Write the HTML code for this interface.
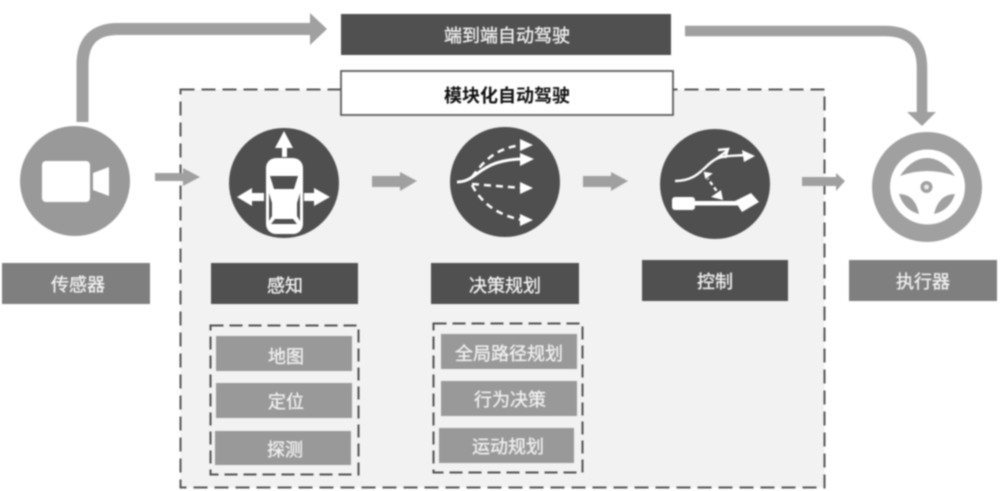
<!DOCTYPE html>
<html lang="zh">
<head>
<meta charset="utf-8">
<style>
html,body{margin:0;padding:0;background:#fff;width:1000px;height:491px;overflow:hidden}
svg{display:block;filter:blur(0.8px)}
text{font-family:"Liberation Sans","Noto Sans CJK SC",sans-serif;font-size:18px;text-anchor:middle;fill:#f0f0f0;stroke:#f0f0f0;stroke-width:0.35px;font-weight:400}
</style>
</head>
<body>
<svg width="1000" height="491" viewBox="0 0 1000 491" xmlns="http://www.w3.org/2000/svg">
<!-- modular container -->
<rect x="180.500" y="89.500" width="644" height="398" fill="#f2f2f2" stroke="#555" stroke-width="2" stroke-dasharray="14 7"/>

<!-- big arrows -->
<path d="M82.500 122V65Q82.500 29 118 29H312" fill="none" stroke="#a0a0a0" stroke-width="12"/>
<polygon points="310,13 327,29 310,45" fill="#a0a0a0"/>
<path d="M685 31H885Q922 31 922 68V114" fill="none" stroke="#a0a0a0" stroke-width="10.500"/>
<polygon points="907,112 936,112 922,126" fill="#a0a0a0"/>

<!-- top bars -->
<rect x="341" y="14" width="330" height="41" fill="#505050"/>
<text x="507" y="42">端到端自动驾驶</text>
<rect x="341" y="71" width="332" height="44" fill="#fff" stroke="#5c5c5c" stroke-width="1.800"/>
<text x="507" y="102" style="fill:#111;stroke:none;font-weight:700">模块化自动驾驶</text>

<!-- small arrows -->
<g fill="#a0a0a0">
<polygon points="155,173 183,173 183,168 200,177 183,186 183,181 155,181"/>
<polygon points="372,176 400,176 400,172 417,181 400,191 400,187 372,187"/>
<polygon points="583,176 611,176 611,172 628,181 611,191 611,187 583,187"/>
<polygon points="802,177 836,177 836,173 845,181 836,191 836,186 802,186"/>
</g>

<!-- camera -->
<circle cx="75" cy="181" r="55" fill="#999"/>
<rect x="42" y="161" width="48" height="41" rx="4" fill="#fff"/>
<polygon points="93,173 109,167 109,196 93,190" fill="#fff"/>

<!-- perception -->
<circle cx="284" cy="183" r="55" fill="#4f4f4f"/>
<rect x="266" y="158" width="37" height="76" rx="10" fill="#fff"/>
<polygon points="270,176 298,176 294,189 274,189" fill="#4f4f4f"/>
<polygon points="271,224 297,224 293,219 275,219" fill="#4f4f4f"/>
<path d="M269 193L272 203V216L269 221ZM300 193L297 203V216L300 221Z" fill="#4f4f4f"/>
<g fill="#fff">
<polygon points="284,131 293,148 287,148 287,157 282,157 282,148 275,148"/>
<polygon points="237,197 252,188 252,193 264,193 264,201 252,201 252,206"/>
<polygon points="330,197 314,188 314,193 304,193 304,201 314,201 314,206"/>
</g>

<!-- planning -->
<circle cx="505" cy="182" r="55" fill="#4f4f4f"/>
<g fill="none" stroke="#fff" stroke-width="2.500">
<path d="M457 182C478 182 478 160 522 159" stroke-width="3"/>
<path d="M472 177C486 158 498 148 522 145" stroke-dasharray="7 5"/>
<path d="M472 184L522 188" stroke-dasharray="7 5"/>
<path d="M472 185C482 204 498 215 522 220" stroke-dasharray="7 5"/>
</g>
<g fill="#fff">
<polygon points="533,145 520,139 520,151"/>
<polygon points="534,159 520,153 520,166"/>
<polygon points="533,188 520,182 520,194"/>
<polygon points="533,220 520,214 520,226"/>
</g>

<!-- control -->
<circle cx="715" cy="184" r="55" fill="#4f4f4f"/>
<g fill="none" stroke="#fff" stroke-width="2.400">
<path d="M675 181C699 181 704 165 716 159C725 155 735 156 745 155"/>
<path d="M716 159L727 151"/>
<path d="M718 150L728 149L725 158"/>
<path d="M706 176L721 197" stroke-dasharray="4 3"/>
</g>
<polygon points="755,156 742,150 744,162" fill="#fff"/>
<polygon points="703,171 714,173 705,180" fill="#fff" stroke="#4f4f4f" stroke-width="1"/>
<polygon points="723,200 711,197 721,190" fill="#fff"/>
<rect x="672" y="197" width="23" height="13" rx="3" fill="#fff"/>
<rect x="694" y="201" width="44" height="4.500" fill="#fff"/>
<polygon points="735,201 751,193 759,202 742,212" fill="#fff"/>

<!-- wheel -->
<circle cx="927" cy="187" r="55" fill="#a0a0a0"/>
<circle cx="927.500" cy="187" r="37.500" fill="#fff"/>
<path d="M900 176Q912 158 927 158Q942 158 955 176Q927 166 900 176Z" fill="#a0a0a0"/>
<path d="M899 194Q915 194 919 214Q904 210 899 194Z" fill="#a0a0a0"/>
<path d="M955 194Q939 194 934 214Q950 210 955 194Z" fill="#a0a0a0"/>
<circle cx="926.500" cy="187" r="6" fill="#a0a0a0"/>
<circle cx="926.500" cy="187" r="2.500" fill="#e8e8e8"/>

<!-- labels -->
<rect x="2" y="263" width="148" height="41" fill="#7f7f7f"/>
<text x="78" y="291">传感器</text>
<rect x="211" y="263" width="147" height="41" fill="#505050"/>
<text x="285" y="292">感知</text>
<rect x="431" y="263" width="148" height="41" fill="#505050"/>
<text x="505" y="292">决策规划</text>
<rect x="642" y="260" width="146" height="41" fill="#505050"/>
<text x="715" y="288">控制</text>
<rect x="849" y="260" width="148" height="41" fill="#7f7f7f"/>
<text x="923" y="288">执行器</text>

<!-- sub groups -->
<rect x="210.500" y="325.500" width="148" height="149" fill="none" stroke="#505050" stroke-width="2" stroke-dasharray="13 6"/>
<rect x="433.500" y="323.500" width="149" height="149" fill="none" stroke="#505050" stroke-width="2" stroke-dasharray="13 6"/>
<g fill="#999">
<rect x="216" y="336" width="136" height="35"/>
<rect x="216" y="383" width="136" height="35"/>
<rect x="215" y="431" width="136" height="34"/>
<rect x="441" y="334" width="136" height="35"/>
<rect x="441" y="381" width="136" height="35"/>
<rect x="439" y="428" width="135" height="35"/>
</g>
<text x="286" y="363">地图</text>
<text x="286" y="408">定位</text>
<text x="285" y="456">探测</text>
<text x="509" y="360">全局路径规划</text>
<text x="510" y="406">行为决策</text>
<text x="508" y="453">运动规划</text>
</svg>
</body>
</html>
